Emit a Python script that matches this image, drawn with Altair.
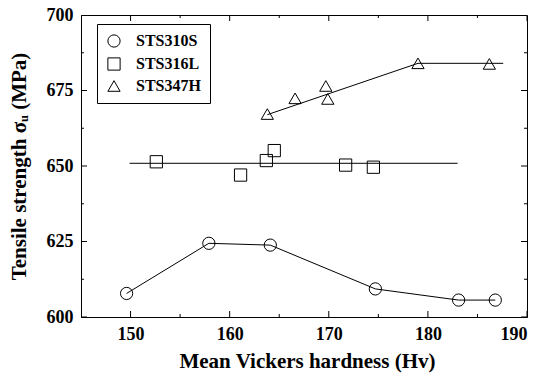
import altair as alt
import pandas as pd

# Measured points (Mean Vickers hardness, tensile strength)
series_names = ["STS310S", "STS316L", "STS347H"]

hv_310 = [149.6, 157.9, 164.1, 174.7, 183.1, 186.8]
ts_310 = [607.8, 624.4, 623.8, 609.3, 605.6, 605.6]

hv_316 = [152.6, 161.1, 163.7, 164.5, 171.7, 174.5]
ts_316 = [651.4, 647.0, 651.8, 655.1, 650.3, 649.6]

hv_347 = [163.8, 166.6, 169.7, 169.9, 179.0, 186.2]
ts_347 = [667.2, 672.4, 676.5, 672.2, 684.0, 683.8]

# Trend lines drawn through the 316L and 347H data
fit_316_hv = [149.9, 183.0]
fit_316_ts = [650.9, 650.9]
fit_347_hv = [163.8, 179.0, 187.6]
fit_347_ts = [667.0, 684.0, 684.0]

# Axis ticks
x_major = [150, 160, 170, 180, 190]
x_minor = [155, 165, 175, 185]
y_major = [600, 625, 650, 675, 700]
y_minor = [612.5, 637.5, 662.5, 687.5]

FONT = "Liberation Serif"

points = pd.DataFrame({
    "hv": hv_310 + hv_316 + hv_347,
    "ts": ts_310 + ts_316 + ts_347,
    "series": [series_names[0]] * len(hv_310)
    + [series_names[1]] * len(hv_316)
    + [series_names[2]] * len(hv_347),
})
line_310 = pd.DataFrame({"hv": hv_310, "ts": ts_310})
fits = pd.DataFrame({
    "hv": fit_316_hv + fit_347_hv,
    "ts": fit_316_ts + fit_347_ts,
    "grp": ["316"] * len(fit_316_hv) + ["347"] * len(fit_347_hv),
})

xs = alt.Scale(domain=[145, 190], nice=False, zero=False)
ys = alt.Scale(domain=[600, 700], nice=False, zero=False)

x_axis = alt.Axis(
    values=x_major, ticks=False, grid=False, domainColor="black",
    labelFont=FONT, labelFontSize=18, labelFontWeight="bold", labelColor="black",
    labelPadding=8, title="Mean Vickers hardness (Hv)", titleFont=FONT,
    titleFontSize=21, titleFontWeight="bold", titleColor="black",
    titleX=226, titleY=50, titleBaseline="alphabetic",
)
y_axis = alt.Axis(
    values=y_major, ticks=False, grid=False, domainColor="black",
    labelFont=FONT, labelFontSize=18, labelFontWeight="bold", labelColor="black",
    labelPadding=8, title="Tensile strength σᵤ (MPa)", titleFont=FONT,
    titleFontSize=21, titleFontWeight="bold", titleColor="black",
    titleX=-62, titleY=151, titleAngle=270, titleBaseline="middle",
)


def X(field="hv"):
    return alt.X(f"{field}:Q", scale=xs, axis=x_axis)


def Y(field="ts"):
    return alt.Y(f"{field}:Q", scale=ys, axis=y_axis)


scatter = alt.Chart(points).mark_point(
    filled=False, color="black", strokeWidth=1, opacity=1
).encode(
    x=X(), y=Y(),
    shape=alt.Shape("series:N", scale=alt.Scale(
        domain=series_names, range=["circle", "square", "triangle-up"]),
        legend=alt.Legend(title=None)),
    size=alt.Size("series:N", scale=alt.Scale(
        domain=series_names, range=[150, 150, 280]),
        legend=alt.Legend(title=None)),
)

curve_310 = alt.Chart(line_310).mark_line(color="black", strokeWidth=1).encode(
    x=X(), y=Y()
)
fit_lines = alt.Chart(fits).mark_line(color="black", strokeWidth=1).encode(
    x=X(), y=Y(), detail="grp:N"
)


def xticks(vals, length, at):
    df = pd.DataFrame({"hv": vals})
    return alt.Chart(df).mark_tick(
        orient="vertical", size=length, thickness=1, color="black",
        opacity=1, clip=True
    ).encode(x=X(), y=alt.datum(at))


def yticks(vals, length, at):
    df = pd.DataFrame({"ts": vals})
    return alt.Chart(df).mark_tick(
        orient="horizontal", size=length, thickness=1, color="black",
        opacity=1, clip=True
    ).encode(y=Y(), x=alt.datum(at))


ticks = [
    xticks(x_major, 12, 600), xticks(x_minor, 6, 600),
    xticks(x_major, 12, 700), xticks(x_minor, 6, 700),
    yticks(y_major, 12, 145), yticks(y_minor, 6, 145),
    yticks(y_major, 12, 190), yticks(y_minor, 6, 190),
]

chart = alt.layer(curve_310, fit_lines, *ticks, scatter).properties(
    width=446, height=302,
    autosize=alt.AutoSizeParams(type="none"),
    padding={"left": 81, "top": 15, "right": 13, "bottom": 57},
    background="white",
).configure_view(
    stroke="black", strokeWidth=1
).configure_legend(
    orient="none", legendX=16, legendY=9,
    strokeColor="black", fillColor="white", padding=9,
    labelFont=FONT, labelFontSize=16, labelFontWeight="bold", labelColor="black",
    symbolStrokeColor="black", symbolStrokeWidth=1, symbolFillColor="transparent",
    rowPadding=5, labelOffset=14, cornerRadius=0,
)

chart.save("out.html", embed_options={"renderer": "svg", "actions": False})
